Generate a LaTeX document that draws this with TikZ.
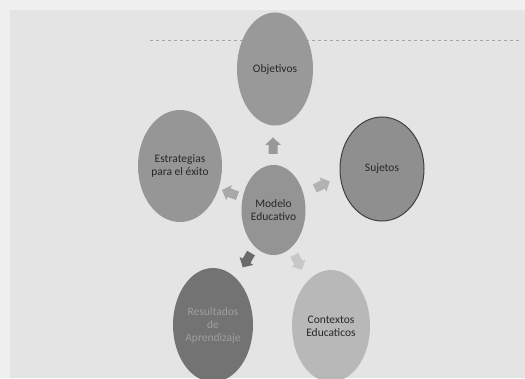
\documentclass[tikz,border=0pt]{standalone}
\usepackage{fontspec}
\setmainfont{Carlito}
\usetikzlibrary{shapes.geometric}
\definecolor{paper}{HTML}{E4E4E4}
\definecolor{margin}{HTML}{F0F0F0}
\definecolor{ink}{HTML}{282828}
\tikzset{
  bubble/.style={ellipse, inner sep=0pt, text=ink, align=center, font=\fontsize{11.5}{13}\selectfont},
  blockarrow/.pic={
    \fill[pic actions] (-8,-4.5) -- (1,-4.5) -- (1,-8) -- (8.5,0) -- (1,8) -- (1,4.5) -- (-8,4.5) -- cycle;
  },
}
\begin{document}
\begin{tikzpicture}[x=1pt,y=1pt]
\useasboundingbox (0,0) rectangle (525,378);
\fill[margin] (0,0) rectangle (525,378);
\fill[paper] (10,0) rectangle (525,368);
% dashed rule of the page
\coordinate (ruleA) at (150,338);
\coordinate (ruleB) at (520,338);
\draw[gray!70, dashed, line width=0.8pt] (ruleA) -- (ruleB);
% bubbles
\node[bubble, fill=black!40, minimum width=76pt, minimum height=113pt] (obj) at (275,309) {Objetivos};
\node[bubble, fill=black!44, draw=black!75, line width=1pt, minimum width=84pt, minimum height=104pt] (suj) at (382,209) {Sujetos};
\node[bubble, fill=black!41, minimum width=84pt, minimum height=112pt] (est) at (180,212) {Estrategias\\para el éxito};
\node[bubble, fill=black!42, minimum width=63pt, minimum height=90pt] (mod) at (273.5,168) {Modelo\\Educativo};
\node[bubble, fill=black!55, text=black!38, minimum width=80pt, minimum height=114pt] (res) at (213,53) {Resultados\\de\\Aprendizaje};
\node[bubble, fill=black!28, minimum width=78pt, minimum height=112pt] (con) at (331,52) {Contextos\\Educaticos};
% arrows
\pic[fill=black!40, rotate=90] (aobj) at (273,232) {blockarrow};
\pic[fill=black!30, rotate=25] (asuj) at (322,193) {blockarrow};
\pic[fill=black!34, rotate=160] (aest) at (230,185) {blockarrow};
\pic[fill=black!58, rotate=240] (ares) at (247,118) {blockarrow};
\pic[fill=black!22, rotate=298] (acon) at (298,116) {blockarrow};
\end{tikzpicture}
\end{document}
